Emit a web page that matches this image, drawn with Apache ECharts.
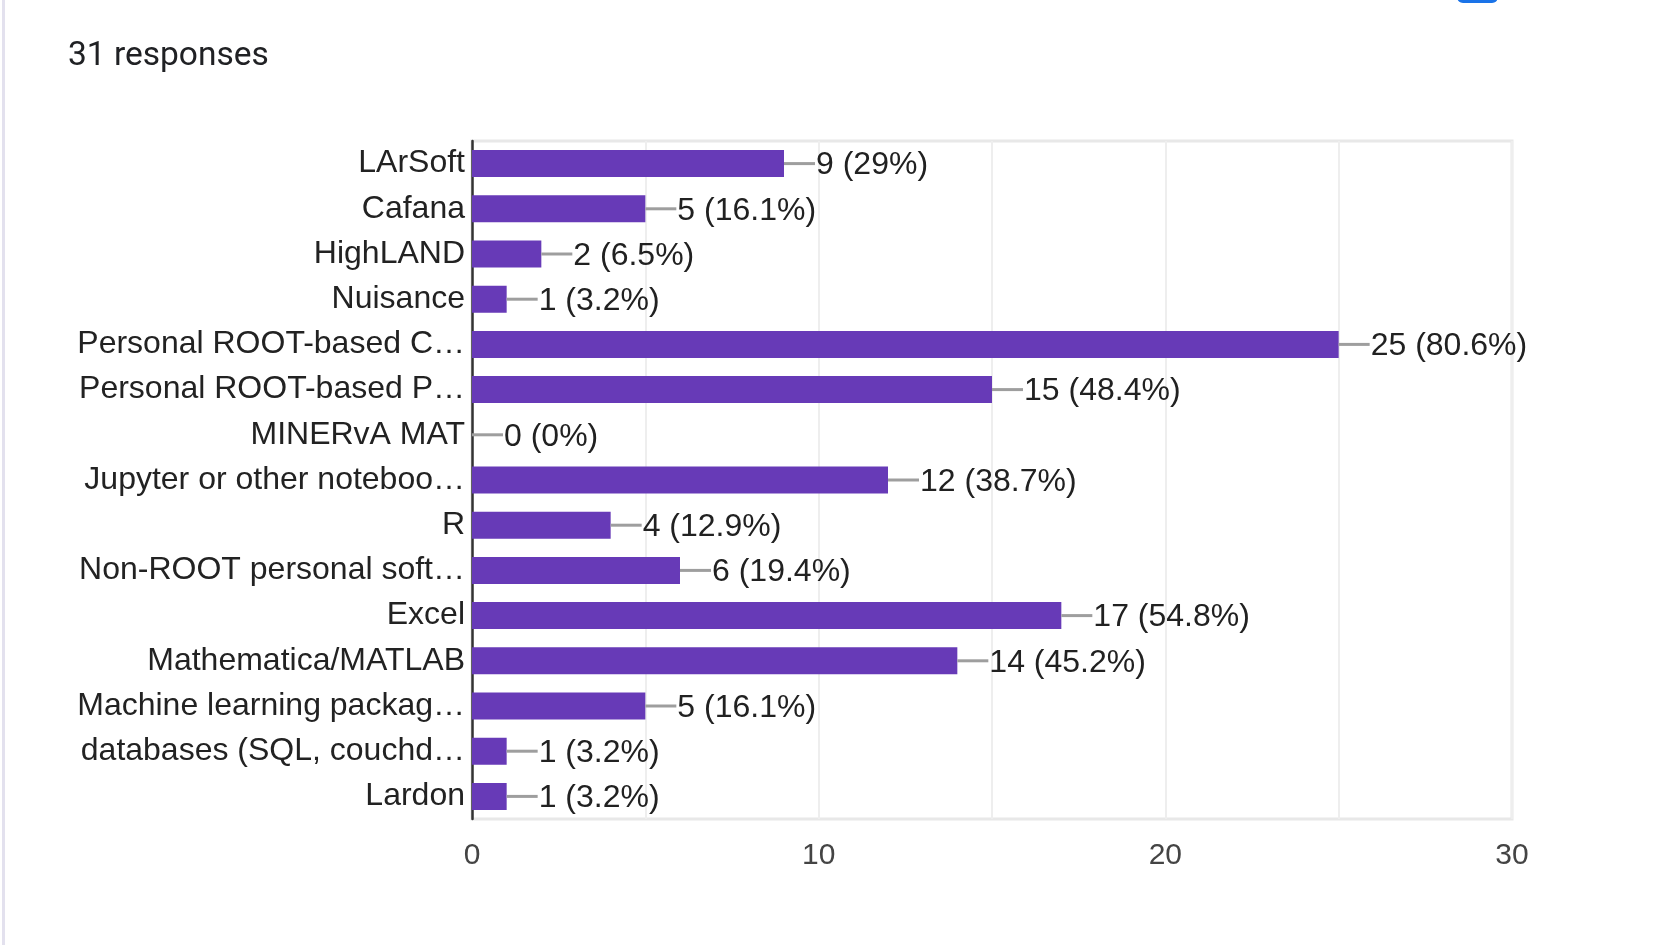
<!DOCTYPE html>
<html>
<head>
<meta charset="utf-8">
<style>html,body{margin:0;padding:0;background:#fff;}#c{width:1674px;height:945px;}</style>
<script src="https://cdn.jsdelivr.net/npm/echarts@6/dist/echarts.min.js"></script>
</head>
<body>
<div id="c"></div>
<script>
const categories = ["LArSoft","Cafana","HighLAND","Nuisance","Personal ROOT-based C\u2026","Personal ROOT-based P\u2026","MINERvA MAT","Jupyter or other noteboo\u2026","R","Non-ROOT personal soft\u2026","Excel","Mathematica/MATLAB","Machine learning packag\u2026","databases (SQL, couchd\u2026","Lardon"];
const counts = [9,5,2,1,25,15,0,12,4,6,17,14,5,1,1];
const percents = ["29%","16.1%","6.5%","3.2%","80.6%","48.4%","0%","38.7%","12.9%","19.4%","54.8%","45.2%","16.1%","3.2%","3.2%"];
const xTicks = [0,10,20,30];
const responsesText = "31 responses";

const chart = echarts.init(document.getElementById('c'), null, {renderer:'canvas'});
const FONT = '"Liberation Sans", Arial, sans-serif';
chart.setOption({
  backgroundColor:'#ffffff',
  animation:false,
  graphic:[
    {type:'rect', left:2, top:0, shape:{width:3,height:945}, style:{fill:'#e3e1ee'}},
    {type:'rect', left:1457, top:-20, shape:{width:41,height:23,r:6}, style:{fill:'#1a73e8'}},
    {type:'text', left:68, top:40, style:{text:responsesText, fill:'#202124', font:'33.5px Roboto, sans-serif'}}
  ],
  grid:{left:472, right:162, top:141, bottom:126, show:true, borderColor:'#e8e8e8', borderWidth:3},
  xAxis:{
    type:'value', min:0, max:30, interval:5,
    axisLine:{show:false}, axisTick:{show:false},
    splitLine:{show:true, lineStyle:{color:'#eeeeee', width:2}},
    axisLabel:{
      margin:22, color:'#444444', fontSize:30, fontFamily:FONT,
      formatter:function(v){ return xTicks.indexOf(v) >= 0 ? String(v) : ''; }
    }
  },
  yAxis:{
    type:'category', data:categories, inverse:true,
    axisLine:{show:true, lineStyle:{color:'#333333', width:2.5}},
    axisTick:{show:false},
    axisLabel:{margin:7, color:'#222222', fontSize:32, fontFamily:FONT, padding:[7,0,0,0]}
  },
  series:[{
    type:'bar', data:counts, barWidth:27,
    itemStyle:{color:'#673ab7'},
    label:{
      show:true, position:'right', distance:0,
      formatter:function(p){ return '{l|}{t|' + counts[p.dataIndex] + ' (' + percents[p.dataIndex] + ')}'; },
      rich:{
        l:{width:31, height:3, backgroundColor:'#9e9e9e'},
        t:{color:'#212121', fontSize:32, fontFamily:FONT, padding:[4,0,0,1]}
      }
    }
  }]
});
</script>
</body>
</html>
